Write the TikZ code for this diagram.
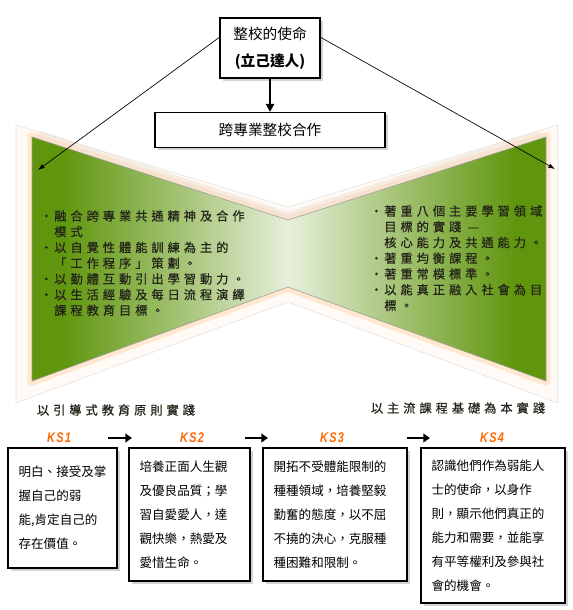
\documentclass[tikz,border=0pt]{standalone}
\usepackage{fontspec}
\usepackage{graphicx}
\setmainfont{Noto Sans CJK TC}
\newfontfamily\brushfont[LetterSpace=32,FakeBold=0.6]{Noto Sans CJK TC}
\newfontfamily\ksfont[LetterSpace=12]{Liberation Sans}
\usetikzlibrary{arrows.meta,shadows}
\definecolor{tiegreen}{RGB}{96,150,14}
\definecolor{ksorange}{RGB}{255,102,0}
\definecolor{inkgray}{RGB}{36,36,24}
\pgfdeclarehorizontalshading{bowtie}{100bp}{color(0bp)=(tiegreen); color(28bp)=(tiegreen); color(40bp)=(tiegreen!55!white); color(50bp)=(tiegreen!15!white); color(60bp)=(tiegreen!55!white); color(72bp)=(tiegreen); color(100bp)=(tiegreen)}
\newcommand\tiebullet{\makebox[10.5pt][l]{·}}
\newcommand\tieindent{\hspace*{10.5pt}}
\begin{document}
\begin{tikzpicture}[x=0.75pt,y=-0.75pt,
  plainbox/.style={draw,fill=white,line width=0.8pt,
    drop shadow={shadow xshift=2pt,shadow yshift=-2pt,opacity=0.35}},
  ksbox/.style={plainbox,align=left,inner xsep=8pt,font=\fontsize{9.4}{18}\selectfont},
  brush/.style={inner sep=0pt,text=inkgray,font=\brushfont\fontsize{9.2}{11.8}\selectfont},
  kslabel/.style={inner sep=0pt,text=ksorange,font=\ksfont\bfseries\itshape\fontsize{10.5}{12}\selectfont},
  guide/.style={-{Latex[length=5pt,width=3.5pt]},line width=0.5pt},
  stepflow/.style={-{Triangle[length=5pt,width=6.5pt]},line width=2pt}]
\useasboundingbox (0,0) rectangle (573,610);

\draw[black!12,fill=orange!4] (16,125) -- (288,207) -- (558,125) -- (558,403) -- (288,302) -- (16,403) -- cycle;
\draw[orange!40,line width=7pt,opacity=0.4,line join=round] (32,137) -- (288,220) -- (546,137) -- (546,381) -- (288,287) -- (32,381) -- cycle;
\fill[brown!25!white,opacity=0.5] (41,131) -- (288,212) -- (537,131) -- (546,137) -- (288,220) -- (32,137) -- cycle;
\shade[shading=bowtie] (32,137) -- (288,220) -- (546,137) -- (546,381) -- (288,287) -- (32,381) -- cycle;
\draw[black!40,line width=0.4pt] (32,137) -- (288,220) -- (546,137) -- (546,381) -- (288,287) -- (32,381) -- cycle;

\node[plainbox,minimum width=75pt,minimum height=45pt,align=center,font=\fontsize{11}{20}\selectfont] (mission) at (270,48) {整校的使命\\{\bfseries (立己達人)}};
\node[plainbox,minimum width=172.5pt,minimum height=26.25pt,font=\fontsize{11}{13}\selectfont] (collab) at (270,130) {跨專業整校合作};
\draw[-{Triangle[length=6pt,width=6pt]},line width=1.5pt] (mission.south) -- (collab.north);

\coordinate (lefttip) at (38,170);
\coordinate (righttip) at (555,169);
\draw[guide] (mission.168) -- (lefttip);
\draw[guide] (mission.12) -- (righttip);

\node[brush,anchor=north west,align=left] (leftlist) at (40,210) {\tiebullet 融合跨專業共通精神及合作\\\tieindent 模式\\\tiebullet 以自覺性體能訓練為主的\\\tieindent 「工作程序」策劃。\\\tiebullet 以勤體互動引出學習動力。\\\tiebullet 以生活經驗及每日流程演繹\\\tieindent 課程教育目標。};
\node[brush,anchor=north west,align=left] (rightlist) at (370,205) {\tiebullet 著重八個主要學習領域\\\tieindent 目標的實踐 —\\\tieindent 核心能力及共通能力。\\\tiebullet 著重均衡課程。\\\tiebullet 著重常模標準。\\\tiebullet 以能真正融入社會為目\\\tieindent 標。};

\node[brush] (leftcaption) at (116,410) {以引導式教育原則實踐};
\node[brush] (rightcaption) at (458,408) {以主流課程基礎為本實踐};

\foreach \k/\x in {1/59,2/192,3/332,4/492}
\node[kslabel] (ks\k) at (\x,438) {\scalebox{0.78}[1]{KS\k}};
\foreach \a/\b/\s/\t in {1/2/36.75/45,2/3/39.75/48,3/4/56.25/46.5}
\draw[stepflow,shorten <=\s pt,shorten >=\t pt] (ks\a.center) -- (ks\b.center);

\node[ksbox,minimum width=81.75pt,minimum height=90pt,text width=65.75pt] (step1) at (62.5,508) {明白、接受及掌\\握自己的弱\\能,肯定自己的\\存在價值。};
\node[ksbox,minimum width=90.75pt,minimum height=99.75pt,text width=74.75pt] (step2) at (189.5,514.5) {培養正面人生觀\\及優良品質；學\\習自愛愛人，達\\觀快樂，熱愛及\\愛惜生命。};
\node[ksbox,minimum width=108pt,minimum height=99.75pt,text width=92pt] (step3) at (335,514.5) {開拓不受體能限制的\\種種領域，培養堅毅\\勤奮的態度，以不屈\\不撓的決心，克服種\\種困難和限制。};
\node[ksbox,minimum width=108pt,minimum height=116.25pt,text width=92pt] (step4) at (493,525.5) {認識他們作為弱能人\\士的使命，以身作\\則，顯示他們真正的\\能力和需要，並能享\\有平等權利及參與社\\會的機會。};
\end{tikzpicture}
\end{document}
